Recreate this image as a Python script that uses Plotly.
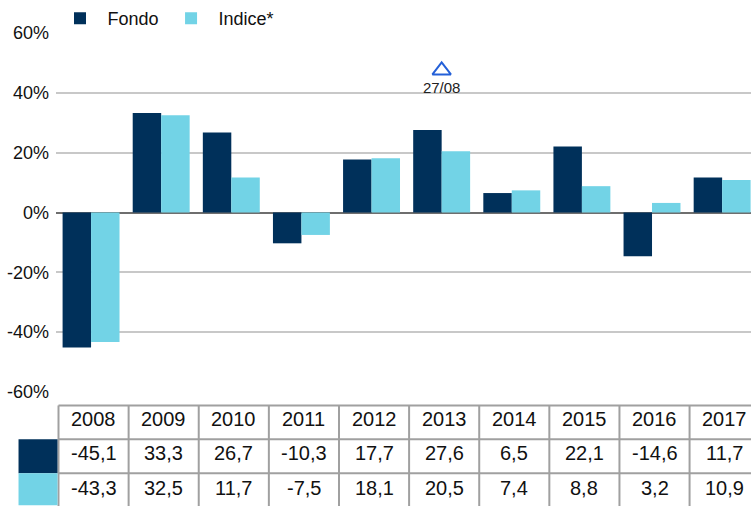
import plotly.graph_objects as go

# ---- data ----
years = ["2008", "2009", "2010", "2011", "2012", "2013", "2014", "2015", "2016", "2017"]
fondo = [-45.1, 33.3, 26.7, -10.3, 17.7, 27.6, 6.5, 22.1, -14.6, 11.7]
indice = [-43.3, 32.5, 11.7, -7.5, 18.1, 20.5, 7.4, 8.8, 3.2, 10.9]
series_names = ["Fondo", "Indice*"]
ytick_vals = [-60, -40, -20, 0, 20, 40, 60]
ytick_text = ["-60%", "-40%", "-20%", "0%", "20%", "40%", "60%"]
event_year = ["2013"]
event_level = [47.5]
event_label = ["27/08"]

# ---- style ----
C_FONDO = "#00305a"
C_INDICE = "#72d3e6"
C_GRID = "#c8c8c8"
C_ZERO = "#6e6e6e"
C_TABLE = "#a0a0a0"
FONT = "Liberation Sans, Arial, sans-serif"

W, H = 751, 506
ML = 55.5
PT, PB = 32.5, 392.5          # plot top / bottom in px
PH = PB - PT
PW = W - ML
CAT_W = 70.17
x_end = -0.5 + PW / CAT_W

def py(p):  # pixel y -> paper y
    return (PB - p) / PH

def px(p):  # pixel x -> paper x
    return (p - ML) / PW

fig = go.Figure()
fig.add_trace(go.Bar(x=years, y=fondo, name=series_names[0], marker_color=C_FONDO,
                     marker_line_width=0))
fig.add_trace(go.Bar(x=years, y=indice, name=series_names[1], marker_color=C_INDICE,
                     marker_line_width=0))
fig.add_trace(go.Scatter(x=event_year, y=event_level, mode="markers+text",
                         text=event_label, textposition="bottom center",
                         textfont=dict(size=15, color="#222222", family=FONT),
                         marker=dict(symbol="triangle-up-open", size=16,
                                     color="#2460d8", line=dict(width=2, color="#2460d8")),
                         showlegend=False, hoverinfo="skip"))

shapes = []
annotations = []

# table geometry (pixels)
row_edges = [406, 440, 474, 509]
col_off = 2.5 / CAT_W
n = len(years)
x_left = -0.5 + col_off
x_right = x_end + 0.2

# horizontal lines
for r in row_edges:
    shapes.append(dict(type="line", xref="x", yref="paper", x0=x_left, x1=x_right,
                       y0=py(r), y1=py(r), line=dict(color=C_TABLE, width=2)))
# vertical lines
for i in range(n + 1):
    xv = i - 0.5 + col_off
    shapes.append(dict(type="line", xref="x", yref="paper", x0=xv, x1=xv,
                       y0=py(row_edges[0]), y1=py(row_edges[-1]),
                       line=dict(color=C_TABLE, width=2)))
# colour swatches
sw_bottoms = [row_edges[2], 506]
for k, c in enumerate([C_FONDO, C_INDICE]):
    shapes.append(dict(type="rect", xref="paper", yref="paper", x0=px(18), x1=px(57),
                       y0=py(row_edges[k + 1]), y1=py(sw_bottoms[k]),
                       fillcolor=c, line=dict(width=0), layer="above"))

def fmt(v):
    return f"{v:.1f}".replace(".", ",")

rows = [years, [fmt(v) for v in fondo], [fmt(v) for v in indice]]
for ri, row in enumerate(rows):
    yc = (row_edges[ri] + row_edges[ri + 1]) / 2 - 3
    for i, t in enumerate(row):
        annotations.append(dict(text=t, xref="x", yref="paper", x=i + col_off,
                                y=py(yc), showarrow=False, xanchor="center",
                                yanchor="middle",
                                font=dict(size=20, color="#111111", family=FONT)))

fig.update_layout(
    width=W, height=H,
    margin=dict(l=ML, r=0, t=PT, b=H - PB, pad=0, autoexpand=False),
    paper_bgcolor="white", plot_bgcolor="white",
    barmode="group", bargap=0.188, bargroupgap=0,
    font=dict(family=FONT, size=18, color="#111111"),
    showlegend=True,
    legend=dict(orientation="h", x=px(52), xanchor="left",
                y=py(-0.5), yanchor="top", itemwidth=45,
                font=dict(size=18, family=FONT, color="#111111"),
                bgcolor="rgba(0,0,0,0)", tracegroupgap=0),
    xaxis=dict(range=[-0.5, x_end], showticklabels=False, showgrid=False,
               zeroline=False, showline=False, ticks="", automargin=False),
    yaxis=dict(range=[-60, 60], tickvals=ytick_vals, ticktext=ytick_text,
               showgrid=True, gridcolor=C_GRID, gridwidth=2,
               zeroline=True, zerolinecolor=C_ZERO, zerolinewidth=2,
               showline=False, ticks="", ticklabelstandoff=6,
               tickfont=dict(size=18, family=FONT, color="#111111"), automargin=False),
    shapes=shapes, annotations=annotations,
)

fig.write_html("out.html", config={"displayModeBar": False},
               post_script="document.body.style.margin='0px';document.body.style.overflow='hidden';")
